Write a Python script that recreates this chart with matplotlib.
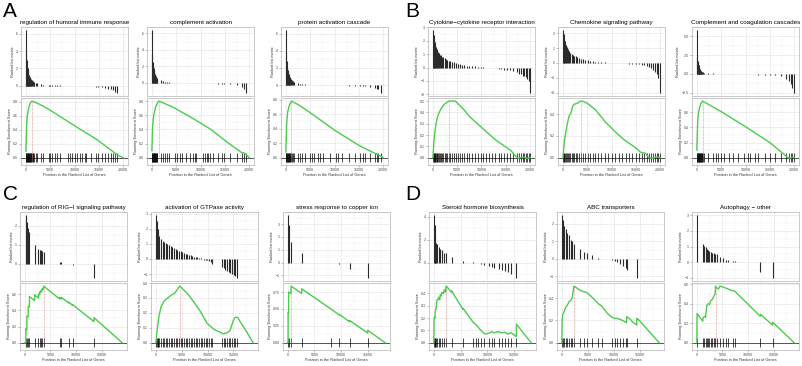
"""GSEA enrichment plots, four groups (A-D) of three gene sets each."""
import matplotlib

matplotlib.use("Agg")
import matplotlib.pyplot as plt
from matplotlib.ticker import AutoMinorLocator, MultipleLocator

plt.rcParams["font.family"] = ["Liberation Sans", "DejaVu Sans"]

W, H = 802, 366

C_ES = "#4ccb4c"
C_BAR = "#2b2b2b"
C_PEAK = "#e08080"
C_BORDER = "#b4b4b4"

# ---- A: GO sets ---------------------------------------------------------
A1_TITLE = "regulation of humoral immune response"
A1_HIT_POS = [50, 120, 200, 280, 360, 450, 540, 630, 720, 820, 920, 1020, 1130, 1250, 1380, 1520, 1700,
              2000, 2200, 3100, 3500, 4700, 5000, 5400, 6000, 6300, 7000, 8600, 9000, 9500, 10200, 10600,
              11100, 11500, 12100, 12400, 13400, 14400, 14800, 15600, 16300, 16900, 17500, 17900, 18300, 18700]
A1_HIT_METRIC = [6.4, 4.0, 3.0, 2.4, 2.0, 1.7, 1.5, 1.3, 1.15, 1.0, 0.9, 0.8, 0.7, 0.62, 0.55, 0.48, 0.42,
                 0.3, 0.28, 0.17, 0.15, 0.1, 0.09, 0.08, 0.07, 0.06, 0.05, 0.03, 0.03, 0.02, 0.01, 0.0,
                 0.0, -0.01, -0.02, -0.02, -0.05, -0.1, -0.1, -0.15, -0.2, -0.3, -0.4, -0.5, -0.7, -0.8]
A1_ES_POS = [0, 150, 300, 600, 900, 1250, 2000, 3500, 5000, 8600, 12000, 14400, 16900, 18800, 20000]
A1_ES = [0.09, 0.45, 0.60, 0.72, 0.78, 0.81, 0.79, 0.74, 0.68, 0.52, 0.37, 0.27, 0.14, 0.04, 0.0]

A2_TITLE = "complement activation"
A2_HIT_POS = [50, 110, 180, 260, 340, 420, 500, 600, 700, 800, 900, 1000, 1100,
              1800, 2300, 2800, 3100, 3470, 4800, 5100, 5800, 6130, 7100, 7800, 8500, 8800, 9100, 10500,
              11000, 11300, 11600, 12000, 12500, 13500, 14500, 14800, 16100, 17500, 18500, 18900, 19300]
A2_HIT_METRIC = [6.4, 3.5, 2.6, 2.1, 1.8, 1.5, 1.3, 1.1, 0.95, 0.8, 0.7, 0.6, 0.5,
                 0.3, 0.2, 0.15, 0.13, 0.1, 0.05, 0.05, 0.04, 0.03, 0.02, 0.0, 0.0, 0.0, -0.01, -0.02,
                 -0.03, -0.03, -0.04, -0.05, -0.05, -0.07, -0.08, -0.1, -0.15, -0.3, -0.5, -0.7, -1.2]
A2_ES_POS = [0, 130, 270, 470, 800, 1130, 1450, 2800, 4130, 5470, 8800, 12130, 15470, 17470, 18500,
             18800, 19300, 20000]
A2_ES = [0.10, 0.40, 0.54, 0.63, 0.72, 0.77, 0.80, 0.76, 0.72, 0.67, 0.54, 0.40, 0.22, 0.12, 0.07,
         0.07, 0.05, 0.0]

A3_TITLE = "protein activation cascade"
A3_HIT_POS = [50, 120, 200, 290, 380, 480, 580, 690, 800, 920, 1050, 1200, 1400, 1600,
              2500, 3000, 3300, 3850, 4860, 5300, 5870, 6550, 7000, 7560, 9000, 10260, 10800, 11600,
              12960, 14300, 15300, 15800, 16300, 17350, 18360, 18700, 19000, 19500]
A3_HIT_METRIC = [6.4, 3.8, 2.8, 2.2, 1.8, 1.5, 1.3, 1.1, 0.95, 0.82, 0.7, 0.6, 0.5, 0.42,
                 0.2, 0.15, 0.13, 0.1, 0.05, 0.05, 0.04, 0.03, 0.03, 0.02, 0.01, 0.0, 0.0, -0.02,
                 -0.05, -0.07, -0.1, -0.12, -0.15, -0.25, -0.35, -0.4, -0.5, -0.9]
A3_ES_POS = [0, 150, 350, 700, 1150, 2000, 3000, 5000, 10000, 15000, 18300, 19000, 20000]
A3_ES = [0.08, 0.45, 0.62, 0.72, 0.78, 0.75, 0.71, 0.62, 0.38, 0.17, 0.06, 0.04, 0.0]

# ---- B: KEGG sets -------------------------------------------------------
B1_TITLE = "Cytokine\u2212cytokine receptor interaction"
B1_HIT_POS = [50, 150, 250, 350, 500, 650, 800, 950, 1100, 1300, 1500, 1700, 1900, 2100, 2400, 2700,
              3000, 3300, 3600, 3900, 4300, 4700, 5200, 5600, 6000, 6500, 7000, 7500, 8000, 8600, 9200,
              9800, 10400, 11000, 11600, 12200, 12800, 13500, 14100, 14700, 15300, 15900, 16500, 17200,
              17800, 18100, 18500, 18800, 19100, 19400, 19700, 19950]
B1_HIT_METRIC = [2.8, 2.4, 2.1, 1.9, 1.7, 1.55, 1.4, 1.25, 1.15, 1.05, 0.95, 0.9, 0.82, 0.76, 0.7, 0.62,
                 0.56, 0.52, 0.48, 0.45, 0.4, 0.35, 0.3, 0.26, 0.22, 0.18, 0.15, 0.12, 0.1, 0.08, 0.05,
                 0.03, 0.01, -0.01, -0.03, -0.05, -0.07, -0.1, -0.12, -0.15, -0.18, -0.22, -0.27, -0.35,
                 -0.45, -0.5, -0.6, -0.65, -0.7, -0.85, -1.0, -1.9]
B1_ES_POS = [0, 300, 650, 1000, 1650, 2300, 3300, 3600, 4600, 6250, 7600, 10200, 12800, 14800, 16100,
             17100, 17500, 18500, 19300, 20000]
B1_ES = [0.0, 0.19, 0.30, 0.37, 0.43, 0.47, 0.50, 0.50, 0.50, 0.43, 0.36, 0.26, 0.16, 0.10, 0.06,
         0.01, -0.005, 0.005, -0.005, 0.0]

B2_TITLE = "Chemokine signaling pathway"
B2_HIT_POS = [50, 150, 300, 450, 650, 850, 1050, 1300, 1550, 1800, 2050, 2300, 2600, 2900, 3300, 3700,
              4100, 4600, 5100, 5600, 6100, 6700, 7300, 7900, 8600, 9300, 10000, 10800, 11500, 12200,
              12900, 13600, 14300, 15000, 15600, 16200, 16700, 17300, 17800, 18200, 18600, 19000, 19300,
              19600, 19950]
B2_HIT_METRIC = [2.2, 1.95, 1.7, 1.45, 1.2, 1.05, 0.92, 0.8, 0.7, 0.62, 0.56, 0.5, 0.45, 0.4, 0.35, 0.3,
                 0.25, 0.2, 0.17, 0.14, 0.12, 0.1, 0.08, 0.06, 0.04, 0.02, 0.01, 0.0, -0.01, -0.02,
                 -0.03, -0.04, -0.05, -0.07, -0.09, -0.12, -0.15, -0.2, -0.28, -0.35, -0.45, -0.6, -0.75,
                 -1.0, -2.0]
B2_ES_POS = [0, 330, 670, 1000, 1330, 1670, 2000, 2300, 3000, 3700, 4000, 5000, 6700, 8700, 10700,
             12700, 14700, 16000, 17000, 17700, 18500, 19300, 20000]
B2_ES = [0.0, 0.16, 0.25, 0.33, 0.39, 0.41, 0.47, 0.49, 0.50, 0.52, 0.52, 0.50, 0.44, 0.33, 0.24,
         0.16, 0.10, 0.05, 0.04, 0.0, -0.005, 0.005, 0.0]

B3_TITLE = "Complement and coagulation cascades"
B3_HIT_POS = [30, 100, 180, 260, 340, 420, 500, 600, 700, 800, 900, 1000, 1100, 1200,
              1500, 2200, 3240, 3930, 4400, 4970, 5660, 6700, 7380, 8410, 9790, 10480, 10830, 11860,
              12550, 13930, 14970, 16000, 17380, 18410, 18900, 19310, 19660, 20000]
B3_HIT_METRIC = [5.8, 2.2, 1.7, 1.4, 1.15, 0.95, 0.8, 0.65, 0.55, 0.45, 0.38, 0.3, 0.25, 0.2,
                 0.15, 0.12, 0.08, 0.05, 0.04, 0.03, 0.02, 0.01, 0.0, -0.02, -0.03, -0.04, -0.05, -0.07,
                 -0.08, -0.1, -0.15, -0.2, -0.3, -0.6, -0.9, -1.3, -1.8, -2.5]
B3_ES_POS = [0, 150, 300, 500, 830, 1170, 5000, 10000, 15000, 18000, 18750, 19200, 19600, 20000]
B3_ES = [0.10, 0.45, 0.58, 0.65, 0.72, 0.75, 0.61, 0.41, 0.20, 0.04, 0.0, -0.005, 0.005, 0.0]

# ---- C: GO sets ---------------------------------------------------------
C1_TITLE = "regulation of RIG\u2212I signaling pathway"
C1_HIT_POS = [200, 400, 650, 900, 1900, 2650, 2900, 3150, 3400, 3650, 6800, 7150, 8600, 9350, 13500]
C1_HIT_METRIC = [2.55, 2.2, 1.85, 1.65, 1.0, 0.78, 0.74, 0.7, 0.67, 0.63, 0.1, 0.08, -0.02, -0.08, -0.75]
C1_ES_POS = [0, 190, 200, 390, 400, 640, 650, 890, 900, 1890, 1900, 2640, 2650, 2890, 2900, 3140, 3150,
             3390, 3400, 3640, 3650, 6790, 6800, 7140, 7150, 8590, 8600, 9340, 9350, 13490, 13500, 19000]
C1_ES = [0.0, 0.0, 0.17, 0.16, 0.33, 0.32, 0.45, 0.44, 0.57, 0.52, 0.59, 0.55, 0.60, 0.59, 0.63, 0.62,
         0.65, 0.64, 0.67, 0.66, 0.70, 0.54, 0.56, 0.54, 0.56, 0.49, 0.50, 0.46, 0.47, 0.26, 0.31, 0.0]

C2_TITLE = "activation of GTPase activity"
C2_HIT_POS = [50, 150, 320, 500, 700, 960, 1300, 1600, 1900, 2240, 2550, 2880, 3200, 3520, 3850, 4160,
              4500, 4800, 5100, 5440, 5750, 6080, 6400, 6720, 7050, 7360, 7700, 8000, 8300, 8640, 8950,
              9280, 9600, 9920, 10240, 10560, 10880, 12800, 13100, 13440, 13750, 14080, 14400, 14720,
              15050, 15360, 15680]
C2_HIT_METRIC = [2.9, 2.5, 2.0, 1.7, 1.5, 1.3, 1.22, 1.15, 1.07, 1.0, 0.92, 0.85, 0.8, 0.75, 0.68, 0.6,
                 0.55, 0.5, 0.45, 0.4, 0.35, 0.3, 0.27, 0.25, 0.2, 0.15, 0.12, 0.1, 0.07, 0.05, 0.0,
                 -0.05, -0.08, -0.1, -0.15, -0.2, -0.3, -0.55, -0.6, -0.7, -0.78, -0.85, -0.92, -1.0,
                 -1.05, -1.1, -1.25]
C2_ES_POS = [0, 300, 600, 1000, 1600, 2300, 3000, 3600, 4200, 4600, 6100, 7400, 8600, 9900, 11200,
             12400, 13000, 13700, 14300, 14600, 15000, 15300, 15800, 16300, 17600, 18800]
C2_ES = [0.0, 0.10, 0.18, 0.24, 0.28, 0.30, 0.32, 0.33, 0.36, 0.38, 0.33, 0.27, 0.21, 0.13, 0.09,
         0.07, 0.06, 0.065, 0.08, 0.11, 0.15, 0.17, 0.17, 0.14, 0.07, 0.0]

C3_TITLE = "stress response to copper ion"
C3_HIT_POS = [50, 150, 600, 2600, 8100, 9700, 11600, 15000]
C3_HIT_METRIC = [3.7, 2.9, 1.6, 0.75, -0.02, -0.12, -0.5, -1.2]
C3_ES_POS = [0, 40, 50, 140, 150, 590, 600, 2590, 2600, 8090, 8100, 9690, 9700, 11590, 11600, 14990,
             15000, 18300]
C3_ES = [0.0, 0.0, 0.45, 0.44, 0.75, 0.73, 0.84, 0.73, 0.80, 0.50, 0.50, 0.41, 0.42, 0.31, 0.33, 0.145,
         0.185, 0.0]

# ---- D: KEGG sets -------------------------------------------------------
D1_TITLE = "Steroid hormone biosynthesis"
D1_HIT_POS = [30, 120, 240, 420, 600, 900, 1200, 1500, 1940, 2300, 3330, 5450, 7270, 7800, 8200, 8800,
              9400, 10400, 10900, 11200, 12100, 12700, 13300, 13800, 14500, 15450]
D1_HIT_METRIC = [4.15, 3.3, 2.4, 1.75, 1.6, 1.4, 1.2, 1.1, 0.9, 0.85, 0.55, 0.2, 0.05, 0.02, -0.05, -0.1,
                 -0.15, -0.3, -0.35, -0.4, -0.5, -0.6, -0.7, -0.8, -1.0, -1.3]
D1_ES_POS = [0, 30, 120, 200, 240, 420, 600, 800, 900, 1100, 1200, 1400, 1500, 1800, 1940, 2200, 2300,
             3320, 3330, 5440, 5450, 7270, 7800, 8200, 8800, 9400, 9700, 10400, 10900, 11200, 12100,
             12700, 13300, 13800, 14500, 15440, 15450, 18200]
D1_ES = [0.0, 0.19, 0.21, 0.20, 0.25, 0.28, 0.35, 0.35, 0.37, 0.35, 0.39, 0.38, 0.41, 0.40, 0.43, 0.41,
         0.46, 0.41, 0.42, 0.27, 0.28, 0.17, 0.15, 0.13, 0.10, 0.075, 0.07, 0.08, 0.09, 0.08, 0.09,
         0.08, 0.085, 0.07, 0.08, 0.05, 0.15, 0.0]

D2_TITLE = "ABC transporters"
D2_HIT_POS = [50, 130, 430, 750, 1080, 1380, 1700, 2020, 2320, 3580, 4210, 4850, 5790, 7040, 7680, 9570,
              10190, 10510, 11130, 11700, 12400, 12510, 14400]
D2_HIT_METRIC = [2.5, 2.2, 1.9, 1.7, 1.5, 1.35, 1.05, 1.0, 0.85, 0.55, 0.4, 0.35, 0.2, 0.05, 0.0, -0.05,
                 -0.15, -0.2, -0.3, -0.4, -0.55, -0.65, -1.1]
D2_ES_POS = [0, 50, 130, 430, 750, 1080, 1380, 1700, 2020, 2320, 3580, 4210, 4850, 5790, 7040, 7680,
             8620, 9570, 10190, 10510, 11130, 11700, 12400, 12500, 13150, 13640, 14400, 14410, 14900, 18700]
D2_ES = [0.0, 0.20, 0.25, 0.28, 0.32, 0.34, 0.37, 0.38, 0.41, 0.51, 0.47, 0.46, 0.45, 0.41, 0.35, 0.33,
         0.27, 0.23, 0.22, 0.22, 0.21, 0.20, 0.18, 0.235, 0.21, 0.185, 0.16, 0.22, 0.20, 0.0]

D3_TITLE = "Autophagy \u2212 other"
D3_HIT_POS = [50, 1200, 1450, 1700, 1950, 2200, 2450, 2700, 2960, 3270, 3580, 3900, 4530, 5030, 5600,
              6100, 7040, 7360, 12400, 14780]
D3_HIT_METRIC = [3.0, 1.15, 1.05, 0.95, 0.87, 0.8, 0.72, 0.65, 0.6, 0.57, 0.55, 0.52, 0.35, 0.28, 0.17,
                 0.13, 0.07, 0.05, -0.6, -1.0]
D3_ES_POS = [0, 50, 1150, 1200, 1450, 1700, 1950, 2200, 2450, 2700, 2960, 3270, 3580, 3650, 3900, 4200,
             4530, 5030, 5600, 6100, 7040, 7360, 12400, 12450, 14780, 14800, 19000]
D3_ES = [0.0, 0.30, 0.22, 0.25, 0.27, 0.26, 0.38, 0.40, 0.39, 0.43, 0.44, 0.47, 0.50, 0.58, 0.56, 0.55,
         0.58, 0.57, 0.56, 0.55, 0.53, 0.53, 0.27, 0.29, 0.18, 0.21, 0.0]

# tick spacing (ranked metric, running ES) per plot
A_STEPS = [(2, 0.2), (2, 0.2), (2, 0.2)]
B_STEPS = [(1, 0.1), (1, 0.2), (2.5, 0.2)]
C_STEPS = [(1, 0.2), (1, 0.1), (1, 0.25)]
D_STEPS = [(2, 0.1), (1, 0.2), (1, 0.2)]


def px_axes(fig, x0, y0, w, h):
    return fig.add_axes([x0 / W, 1 - (y0 + h) / H, w / W, h / H])


def style(ax, ystep):
    ax.set_facecolor("white")
    ax.set_axisbelow(True)
    ax.yaxis.set_major_locator(MultipleLocator(ystep))
    ax.xaxis.set_major_locator(MultipleLocator(5000))
    ax.xaxis.set_minor_locator(AutoMinorLocator(2))
    ax.yaxis.set_minor_locator(AutoMinorLocator(2))
    ax.grid(which="major", color="#e4e4e4", linewidth=0.45)
    ax.grid(which="minor", color="#f1f1f1", linewidth=0.3)
    for s in ax.spines.values():
        s.set_color(C_BORDER)
        s.set_linewidth(0.5)
    ax.tick_params(which="major", length=1.2, width=0.4, color="#8a8a8a", labelsize=2.6,
                   labelcolor="#4a4a4a", pad=0.8)
    ax.tick_params(which="minor", length=0)


def gsea(fig, left, base, title, hit_pos, hit_metric, es_pos, es, steps, width=107):
    n = es_pos[-1]
    xlim = (-0.05 * n, 1.05 * n)

    top = px_axes(fig, left, base, width, 69)
    top.vlines(hit_pos, 0, hit_metric, color=C_BAR, linewidth=0.8)
    top.set_xlim(xlim)
    style(top, steps[0])
    top.tick_params(axis="x", which="both", labelbottom=False, length=0)
    top.set_ylabel("Ranked list metric", fontsize=2.8, labelpad=1.2, color="#333333")
    top.set_title(title, fontsize=4.5, pad=2.2)

    bot = px_axes(fig, left, base + 71, width, 67)
    half = 0.075 * (max(es) - min(es))
    bot.vlines(hit_pos, -half, half, color="black", linewidth=0.5)
    bot.axhline(0, color="black", linewidth=0.45)
    peak = es.index(max(es))
    bot.vlines(es_pos[peak], 0, es[peak], color=C_PEAK, linewidth=0.5, linestyle=(0, (1, 1)))
    bot.plot(es_pos, es, color=C_ES, linewidth=1.0)
    bot.set_xlim(xlim)
    style(bot, steps[1])
    bot.set_ylabel("Running Enrichment Score", fontsize=2.8, labelpad=1.2, color="#333333")
    bot.set_xlabel("Position in the Ranked List of Genes", fontsize=2.8, labelpad=1.0, color="#333333")


fig = plt.figure(figsize=(W / 100, H / 100), dpi=100)

row1, row2 = 27, 212
panels = [
    (21, row1, A1_TITLE, A1_HIT_POS, A1_HIT_METRIC, A1_ES_POS, A1_ES, A_STEPS[0]),
    (147, row1, A2_TITLE, A2_HIT_POS, A2_HIT_METRIC, A2_ES_POS, A2_ES, A_STEPS[1]),
    (281, row1, A3_TITLE, A3_HIT_POS, A3_HIT_METRIC, A3_ES_POS, A3_ES, A_STEPS[2]),
    (428, row1, B1_TITLE, B1_HIT_POS, B1_HIT_METRIC, B1_ES_POS, B1_ES, B_STEPS[0]),
    (558, row1, B2_TITLE, B2_HIT_POS, B2_HIT_METRIC, B2_ES_POS, B2_ES, B_STEPS[1]),
    (692, row1, B3_TITLE, B3_HIT_POS, B3_HIT_METRIC, B3_ES_POS, B3_ES, B_STEPS[2]),
    (20, row2, C1_TITLE, C1_HIT_POS, C1_HIT_METRIC, C1_ES_POS, C1_ES, C_STEPS[0]),
    (151, row2, C2_TITLE, C2_HIT_POS, C2_HIT_METRIC, C2_ES_POS, C2_ES, C_STEPS[1]),
    (283, row2, C3_TITLE, C3_HIT_POS, C3_HIT_METRIC, C3_ES_POS, C3_ES, C_STEPS[2]),
    (429, row2, D1_TITLE, D1_HIT_POS, D1_HIT_METRIC, D1_ES_POS, D1_ES, D_STEPS[0]),
    (557, row2, D2_TITLE, D2_HIT_POS, D2_HIT_METRIC, D2_ES_POS, D2_ES, D_STEPS[1]),
    (692, row2, D3_TITLE, D3_HIT_POS, D3_HIT_METRIC, D3_ES_POS, D3_ES, D_STEPS[2]),
]
for left, base, *rest in panels:
    gsea(fig, left, base, *rest)

for letter, x, y in [("A", 3, 2), ("B", 405, 2), ("C", 3, 185), ("D", 405, 185)]:
    fig.text(x / W, 1 - y / H, letter, fontsize=15, va="top", ha="left")

fig.savefig("out.png", dpi=100, facecolor="white")
